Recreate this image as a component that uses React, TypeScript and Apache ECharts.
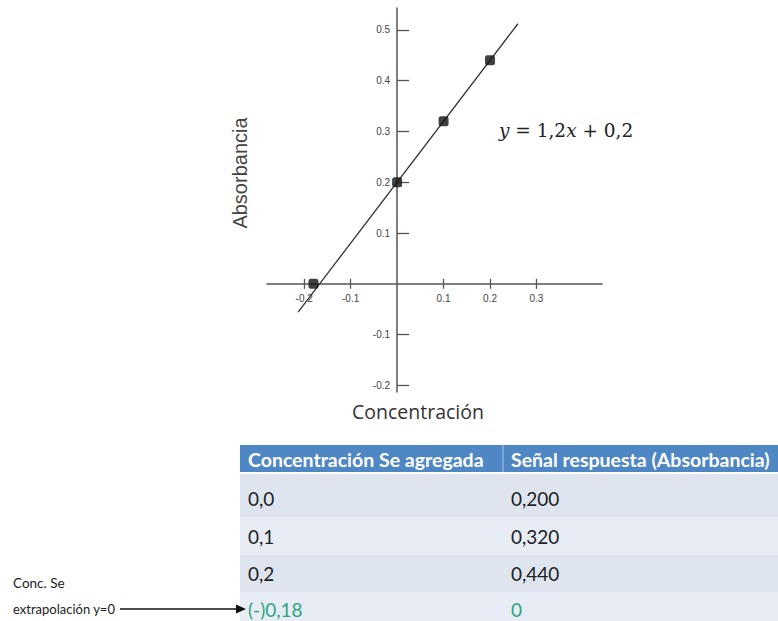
import React, { useEffect, useRef } from "react";
import * as echarts from "echarts";

// Standard-addition calibration: concentration added vs. measured absorbance
const addedConc = [0.0, 0.1, 0.2];
const absorbance = [0.2, 0.32, 0.44];
const extrapolatedConc = -0.18;
const extrapolatedSignal = 0;

// Fitted line y = slope * x + intercept, drawn over this x-range
const slope = 1.2;
const intercept = 0.2;
const fitRange = [-0.213, 0.26];

const xTicks = [-0.2, -0.1, 0.1, 0.2, 0.3];
const yTicks = [-0.2, -0.1, 0.1, 0.2, 0.3, 0.4, 0.5];

const tableHeaders = ["Concentración Se agregada", "Señal respuesta (Absorbancia)"];

const comma = (v: number, d: number) => v.toFixed(d).replace(".", ",");

export default function App() {
  const ref = useRef<HTMLDivElement>(null);

  useEffect(() => {
    if (!ref.current) return;
    const chart = echarts.init(ref.current, null, { renderer: "svg" });

    const points = addedConc.map((c, i) => [c, absorbance[i]]);
    points.push([extrapolatedConc, extrapolatedSignal]);
    const fitLine = fitRange.map((x) => [x, slope * x + intercept]);

    const axisColor = "#555";
    const tickFont = { fontSize: 10, color: "#444", fontFamily: "Liberation Sans" };

    // plot area and ranges
    const gLeft = 267;
    const gWidth = 335;
    const gTop = 8;
    const gHeight = 384;
    const xMin = -0.28;
    const xMax = 0.441;
    const yMin = -0.213;
    const yMax = 0.543;
    // the axes cross at the origin: shift them inward from the grid edges
    const yAxisShift = -((0 - xMin) / (xMax - xMin)) * gWidth;
    const xAxisShift = -((0 - yMin) / (yMax - yMin)) * gHeight;

    // table geometry
    const tLeft = 240;
    const colX = 503;
    const headTop = 445;
    const headH = 27;
    const rowCenters = [498, 536, 573, 609];
    const bodyTop = 474;

    const rowsCol1 = addedConc.map((c) => comma(c, 1));
    const rowsCol2 = absorbance.map((a) => comma(a, 3));
    rowsCol1.push("(-)" + comma(Math.abs(extrapolatedConc), 2));
    rowsCol2.push(String(extrapolatedSignal));

    const tableFont = "Lato";
    const graphics: any[] = [];

    // body rows
    const rowEdges = [bodyTop, 517, 555, 592, 621];
    rowCenters.forEach((_, i) => {
      graphics.push({
        type: "rect",
        shape: { x: tLeft, y: rowEdges[i], width: 778 - tLeft, height: rowEdges[i + 1] - rowEdges[i] },
        style: { fill: i % 2 === 0 ? "#dfe5ef" : "#e8edf5" },
        silent: true,
      });
    });
    // header
    graphics.push({
      type: "rect",
      shape: { x: tLeft, y: headTop, width: 778 - tLeft, height: headH },
      style: { fill: "#4f86c4" },
    });
    graphics.push({
      type: "line",
      shape: { x1: colX, y1: headTop, x2: colX, y2: headTop + headH },
      style: { stroke: "#a9c3e3", lineWidth: 1 },
    });
    tableHeaders.forEach((h, i) => {
      graphics.push({
        type: "text",
        x: i === 0 ? 248 : 511,
        y: headTop + headH / 2 + 1,
        style: {
          text: h,
          fill: "#ffffff",
          font: `bold 19.5px ${tableFont}`,
          verticalAlign: "middle",
          align: "left",
        },
      });
    });
    rowCenters.forEach((cy, i) => {
      const last = i === rowCenters.length - 1;
      const fill = last ? "#2fa57f" : "#222";
      graphics.push({
        type: "text",
        x: 248,
        y: cy,
        style: { text: rowsCol1[i], fill, font: `19px ${tableFont}`, verticalAlign: "middle" },
      });
      graphics.push({
        type: "text",
        x: 511,
        y: cy,
        style: { text: rowsCol2[i], fill, font: `19px ${tableFont}`, verticalAlign: "middle" },
      });
    });

    // side note with arrow pointing at the extrapolated row
    graphics.push({
      type: "text",
      x: 13,
      y: 583,
      style: { text: "Conc. Se", fill: "#222", font: `13.5px ${tableFont}`, verticalAlign: "middle" },
    });
    graphics.push({
      type: "text",
      x: 13,
      y: 609,
      style: { text: "extrapolación y=0", fill: "#222", font: `13px ${tableFont}`, verticalAlign: "middle" },
    });
    graphics.push({
      type: "line",
      shape: { x1: 120, y1: 609, x2: 238, y2: 609 },
      style: { stroke: "#111", lineWidth: 1.6 },
    });
    graphics.push({
      type: "polygon",
      shape: { points: [[246, 609], [236, 604.5], [236, 613.5]] },
      style: { fill: "#111" },
    });

    // axis titles and equation
    graphics.push({
      type: "text",
      x: 240,
      y: 173,
      rotation: Math.PI / 2,
      style: {
        text: "Absorbancia",
        fill: "#444",
        font: "20px Liberation Sans",
        align: "center",
        verticalAlign: "middle",
      },
    });
    graphics.push({
      type: "text",
      x: 418,
      y: 411,
      style: {
        text: "Concentración",
        fill: "#333",
        font: "19.5px Open Sans",
        align: "center",
        verticalAlign: "middle",
      },
    });
    graphics.push({
      type: "text",
      x: 499,
      y: 130,
      style: {
        text: `{i|y} = ${comma(slope, 1)}{i|x} + ${comma(intercept, 1)}`,
        fill: "#222",
        font: "18.5px DejaVu Serif",
        verticalAlign: "middle",
        rich: {
          i: { fontStyle: "italic", fontFamily: "DejaVu Serif", fontSize: 18.5, fill: "#222" },
        },
      },
    });

    chart.setOption({
      animation: false,
      backgroundColor: "#ffffff",
      grid: { left: gLeft, width: gWidth, top: gTop, height: gHeight, containLabel: false },
      xAxis: [
        {
          type: "value",
          min: xMin,
          max: xMax,
          position: "bottom",
          offset: xAxisShift,
          axisLine: { onZero: false, lineStyle: { color: axisColor, width: 1.5 } },
          axisTick: { show: true, inside: true, length: 5, customValues: xTicks, lineStyle: { color: axisColor, width: 1.3 } },
          axisLabel: { ...tickFont, margin: 10, customValues: xTicks, formatter: (v: number) => v.toFixed(1) },
          splitLine: { show: false },
        },
        {
          type: "value",
          min: xMin,
          max: xMax,
          position: "bottom",
          offset: xAxisShift,
          axisLine: { show: false, onZero: false },
          axisTick: { show: true, inside: false, length: 5, customValues: xTicks, lineStyle: { color: axisColor, width: 1.3 } },
          axisLabel: { show: false },
          splitLine: { show: false },
        },
      ],
      yAxis: {
        type: "value",
        min: yMin,
        max: yMax,
        position: "left",
        offset: yAxisShift,
        axisLine: { onZero: false, lineStyle: { color: axisColor, width: 1.5 } },
        axisTick: { show: true, inside: true, length: 12, customValues: yTicks, lineStyle: { color: axisColor, width: 1.3 } },
        axisLabel: { ...tickFont, margin: 7, customValues: yTicks, formatter: (v: number) => v.toFixed(1) },
        splitLine: { show: false },
      },
      series: [
        {
          type: "line",
          xAxisIndex: 0,
          data: fitLine,
          symbol: "none",
          lineStyle: { color: "#333", width: 1.3 },
          z: 2,
        },
        {
          type: "scatter",
          xAxisIndex: 0,
          data: points,
          symbol: "roundRect",
          symbolSize: 10,
          itemStyle: { color: "#111" },
          z: 3,
        },
      ],
      graphic: graphics,
    });

    return () => chart.dispose();
  }, []);

  return (
    <div
      ref={ref}
      style={{ position: "fixed", left: 0, top: 0, width: 778, height: 621, background: "#fff" }}
    />
  );
}
